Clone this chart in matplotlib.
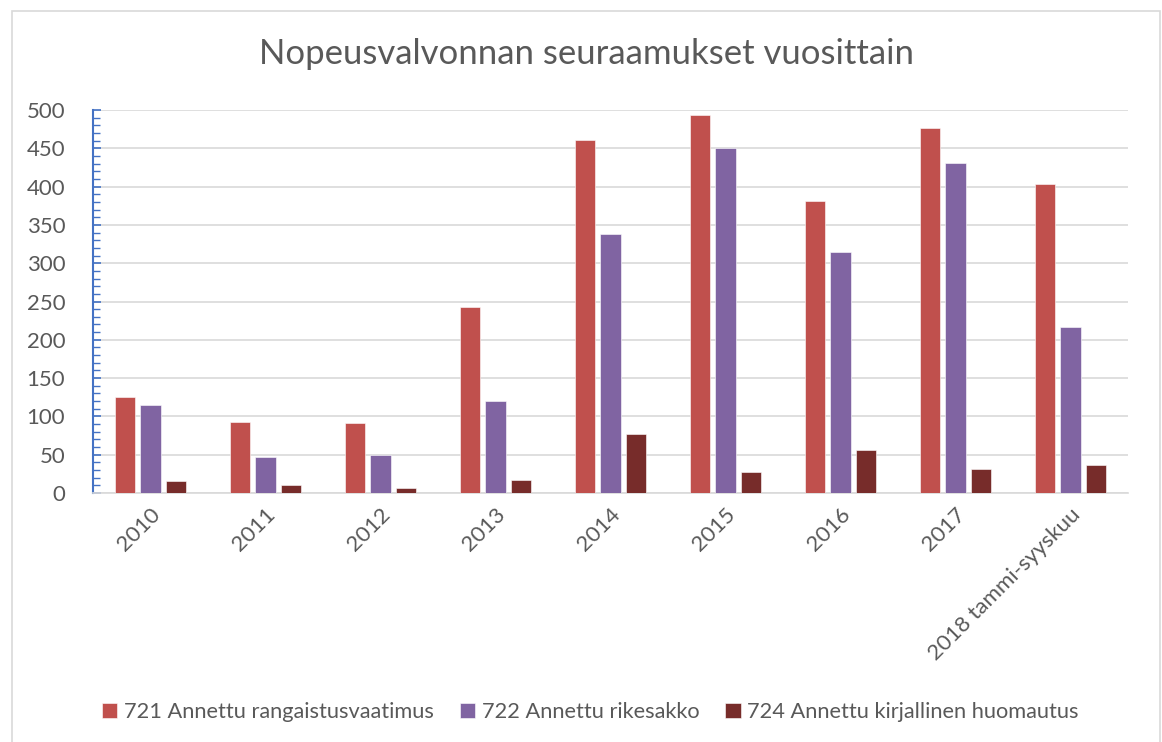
import matplotlib
matplotlib.use("Agg")
import numpy as np
import matplotlib.pyplot as plt
from matplotlib.patches import Rectangle
from matplotlib.ticker import MultipleLocator

plt.rcParams['font.family'] = ['Lato', 'DejaVu Sans']

categories = ['2010', '2011', '2012', '2013', '2014', '2015', '2016', '2017',
              '2018 tammi-syyskuu']
rangaistusvaatimus = [125, 93, 92, 243, 461, 494, 381, 476, 404]
rikesakko = [115, 47, 50, 120, 338, 450, 314, 431, 217]
huomautus = [16, 11, 6, 17, 77, 27, 56, 31, 37]
series_names = ['721 Annettu rangaistusvaatimus', '722 Annettu rikesakko',
                '724 Annettu kirjallinen huomautus']
colors = ['#C0504D', '#8064A2', '#772C2A']
txt = '#595959'

fig = plt.figure(figsize=(11.62, 7.42), dpi=100)
fig.patches.append(Rectangle((12 / 1162, -0.01), 1148 / 1162, 1.01 - 11 / 742,
                             transform=fig.transFigure, fill=False,
                             edgecolor='#D9D9D9', lw=1.2))
ax = fig.add_axes([93 / 1162, (742 - 493) / 742, 1035 / 1162, 383 / 742])

x = np.arange(len(categories))
w = 0.174
pitch = 0.226
for i, (vals, name) in enumerate(zip([rangaistusvaatimus, rikesakko, huomautus], series_names)):
    ax.bar(x + (i - 1) * pitch, vals, w, color=colors[i], label=name,
           edgecolor='white', linewidth=0.4, zorder=3)

ax.set_xlim(-0.5, len(categories) - 0.5)
ax.set_ylim(0, 500)
ax.yaxis.set_major_locator(MultipleLocator(50))
ax.yaxis.set_minor_locator(MultipleLocator(10))
ax.grid(axis='y', color='#D9D9D9', lw=1.2, zorder=0)
for s in ['top', 'right']:
    ax.spines[s].set_visible(False)
ax.spines['bottom'].set_color('#D9D9D9')
ax.spines['bottom'].set_linewidth(1.2)
ax.spines['left'].set_color('#4472C4')
ax.spines['left'].set_linewidth(1.5)
ax.tick_params(axis='y', which='both', direction='in', colors='#4472C4',
               labelcolor=txt, labelsize=16, pad=20)
ax.tick_params(axis='y', which='major', length=6, width=1.2)
ax.tick_params(axis='y', which='minor', length=5, width=1.0)
ax.set_xticks(x)
ax.set_xticklabels(categories, rotation=45, ha='right', rotation_mode='anchor',
                   color=txt, fontsize=16)
ax.tick_params(axis='x', length=0, pad=8)

fig.text(0.505, 0.927, 'Nopeusvalvonnan seuraamukset vuosittain', ha='center',
         va='center', fontsize=25, color=txt)

fig.legend(loc='center', bbox_to_anchor=(0.508, 0.04), ncol=3, frameon=False,
           fontsize=15.7, labelcolor=txt, handlelength=0.7, handleheight=0.7,
           handletextpad=0.3, columnspacing=1.2)

fig.savefig('out.png', dpi=100)
